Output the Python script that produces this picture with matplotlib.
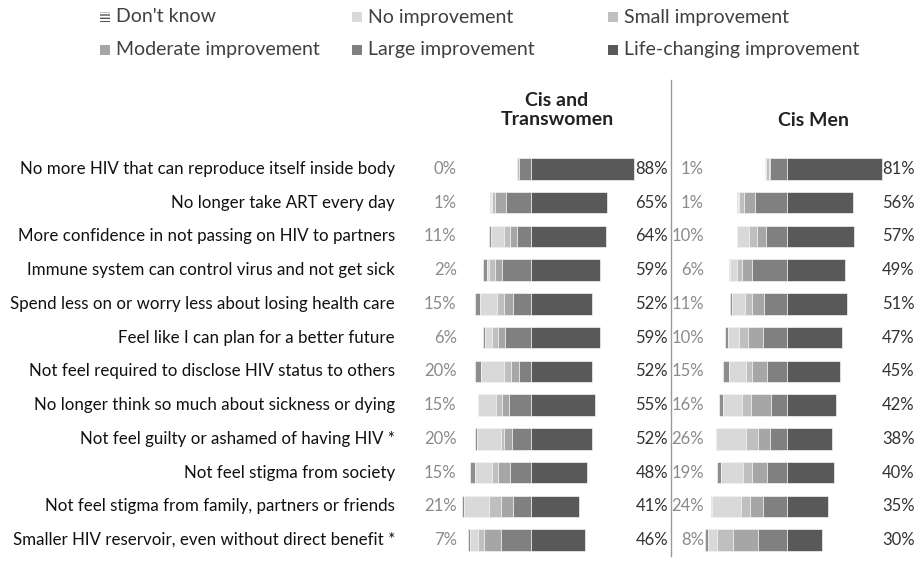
import matplotlib.pyplot as plt
from matplotlib.patches import Rectangle
from matplotlib.lines import Line2D

W, H = 919, 561

items = [
    "No more HIV that can reproduce itself inside body",
    "No longer take ART every day",
    "More confidence in not passing on HIV to partners",
    "Immune system can control virus and not get sick",
    "Spend less on or worry less about losing health care",
    "Feel like I can plan for a better future",
    "Not feel required to disclose HIV status to others",
    "No longer think so much about sickness or dying",
    "Not feel guilty or ashamed of having HIV *",
    "Not feel stigma from society",
    "Not feel stigma from family, partners or friends",
    "Smaller HIV reservoir, even without direct benefit *",
]

categories = ["Don't know", "No improvement", "Small improvement",
              "Moderate improvement", "Large improvement", "Life-changing improvement"]

# Cis and Transwomen (%)
women_dk = [0, 1, 2, 3, 4, 2, 5, 0, 2, 4, 2, 2]
women_none = [0, 1, 11, 2, 15, 6, 20, 15, 20, 15, 21, 7]
women_small = [2, 2, 5, 5, 6, 5, 6, 5, 3, 5, 10, 5]
women_moderate = [0, 10, 6, 6, 8, 6, 7, 6, 7, 10, 11, 14]
women_large = [10, 21, 12, 25, 15, 22, 10, 19, 16, 18, 15, 26]
women_life = [88, 65, 64, 59, 52, 59, 52, 55, 52, 48, 41, 46]

# Cis Men (%)
men_dk = [0, 1, 0, 1, 2, 2, 5, 3, 0, 3, 1, 2]
men_none = [1, 1, 10, 6, 11, 10, 15, 16, 26, 19, 24, 8]
men_small = [2, 4, 7, 4, 6, 7, 5, 8, 10, 8, 8, 14]
men_moderate = [1, 9, 8, 9, 10, 13, 13, 17, 10, 13, 11, 21]
men_large = [15, 28, 18, 30, 20, 21, 17, 14, 15, 17, 21, 25]
men_life = [81, 56, 57, 49, 51, 47, 45, 42, 38, 40, 35, 30]

colors = ["#8e8e8e", "#d9d9d9", "#bfbfbf", "#a6a6a6", "#808080", "#595959"]

plt.rcParams["font.family"] = ["Lato", "DejaVu Sans"]

fig = plt.figure(figsize=(W / 100, H / 100), dpi=100)

PX = 1.17  # pixels per percent
XMIN, XMAX = -72, 92
ax_bottom = 1 - 556.9 / H
ax_height = 404.8 / H


def draw_panel(zero_px, series, left_lab_x, right_lab_x):
    left = (zero_px + XMIN * PX) / W
    ax = fig.add_axes([left, ax_bottom, (XMAX - XMIN) * PX / W, ax_height])
    n = len(items)
    ys = list(range(n))
    starts = [-(series[0][i] + series[1][i] + series[2][i] + series[3][i] + series[4][i])
              for i in range(n)]
    for k, vals in enumerate(series):
        ax.barh(ys, vals, left=starts, height=0.64, color=colors[k],
                edgecolor="#f2f2f2", linewidth=0.5)
        starts = [s + v for s, v in zip(starts, vals)]
    for i in range(n):
        ax.text(left_lab_x, i, f"{series[1][i]}%", ha="right", va="center",
                fontsize=12, color="#8a8a8a", clip_on=False)
        ax.text(right_lab_x, i, f"{series[5][i]}%", ha="left", va="center",
                fontsize=12, color="#333333", clip_on=False)
    ax.set_xlim(XMIN, XMAX)
    ax.set_ylim(n - 0.5, -0.5)
    ax.axis("off")
    return ax


ax1 = draw_panel(531, [women_dk, women_none, women_small, women_moderate,
                       women_large, women_life], -63.5, 89.3)
ax2 = draw_panel(787.3, [men_dk, men_none, men_small, men_moderate,
                         men_large, men_life], -71.3, 81.0)

for i, label in enumerate(items):
    ax1.text((395 - 531) / PX, i, label, ha="right", va="center",
             fontsize=12.2, color="#111111", clip_on=False)

fig.text(557 / W, 1 - 110 / H, "Cis and\nTranswomen", ha="center", va="center",
         fontsize=14, fontweight="bold", color="#222222", linespacing=1.15)
fig.text(813 / W, 1 - 120 / H, "Cis Men", ha="center", va="center",
         fontsize=14, fontweight="bold", color="#222222")

fig.add_artist(Line2D([671 / W, 671 / W], [1 - 80 / H, 1 - 556 / H],
                      transform=fig.transFigure, color="#9a9a9a", linewidth=1))

# legend laid out by hand, two rows of three
leg_pos = [(100, 17), (352, 17), (608, 17), (100, 50), (352, 50), (608, 50)]
for k, (cat, (lx, ly)) in enumerate(zip(categories, leg_pos)):
    if k == 0:
        patch = Rectangle((lx / W, 1 - (ly + 5) / H), 10 / W, 10 / H,
                          transform=fig.transFigure, facecolor="white",
                          edgecolor="#555555", hatch="-----", linewidth=0)
    else:
        patch = Rectangle((lx / W, 1 - (ly + 5) / H), 10 / W, 10 / H,
                          transform=fig.transFigure, facecolor=colors[k],
                          edgecolor="none")
    fig.add_artist(patch)
    fig.text((lx + 16) / W, 1 - ly / H, cat, ha="left", va="center",
             fontsize=14, color="#404040")

fig.savefig("out.png", dpi=100)
